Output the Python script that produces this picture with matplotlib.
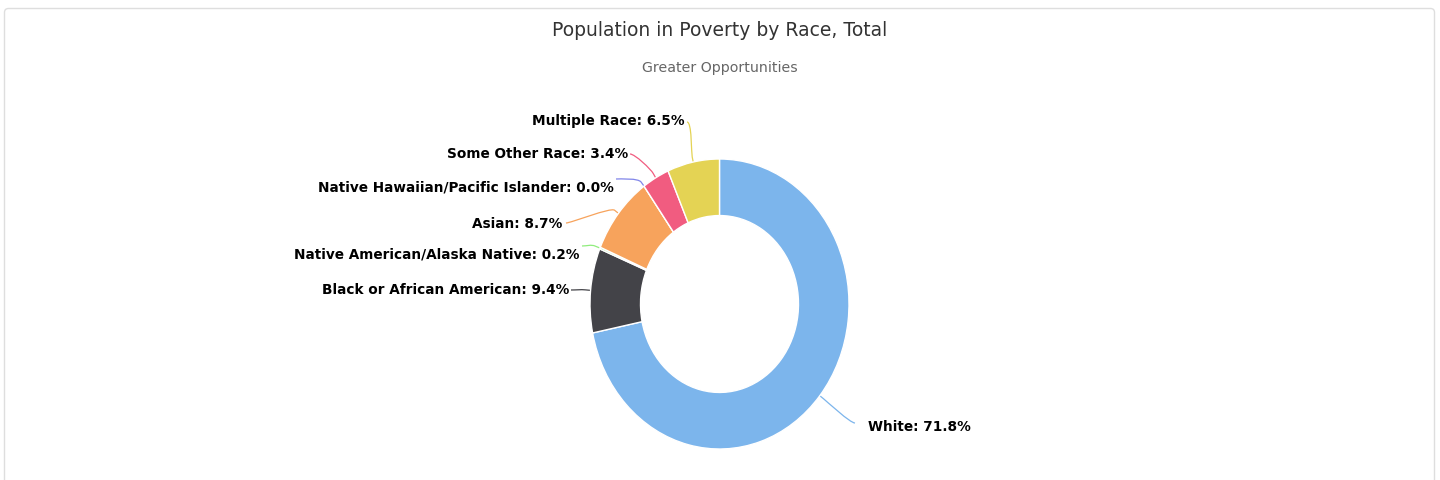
import numpy as np
import matplotlib
matplotlib.use("Agg")
import matplotlib.pyplot as plt
from matplotlib.path import Path
from matplotlib.patches import PathPatch, FancyBboxPatch

# ---------------- data ----------------
categories = ["White", "Black or African American", "Native American/Alaska Native",
              "Asian", "Native Hawaiian/Pacific Islander", "Some Other Race", "Multiple Race"]
shares = [71.8, 9.4, 0.2, 8.7, 0.0, 3.4, 6.5]
colors = ["#7cb5ec", "#434348", "#90ed7d", "#f7a35c", "#8085e9", "#f15c80", "#e4d354"]
title = "Population in Poverty by Race, Total"
subtitle = "Greater Opportunities"

# ---------------- layout (pixels) ----------------
W, H = 1440, 481
cx, cy, rx, ry = 719.5, 305.0, 129.5, 145.0
inner_frac = 0.39
# label text anchor (x, y), alignment, connector start point
label_layout = {
    "White": ((868, 427), "left", (855, 424)),
    "Black or African American": ((569, 290), "right", (571, 291)),
    "Native American/Alaska Native": ((579, 255), "right", (582, 247)),
    "Asian": ((562, 224), "right", (566, 224)),
    "Native Hawaiian/Pacific Islander": ((614, 188), "right", (616, 180)),
    "Some Other Race": ((628, 154), "right", (630, 155)),
    "Multiple Race": ((685, 121), "right", (687, 123)),
}

fig = plt.figure(figsize=(W / 100, H / 100), dpi=100)
fig.patch.set_facecolor("white")

ax = fig.add_axes([0, 0, 1, 1])
ax.set_xlim(0, W)
ax.set_ylim(H, 0)
ax.axis("off")

# card border
card = FancyBboxPatch((4.5, 9.5), 1430, 480, boxstyle="round,pad=0,rounding_size=4",
                      facecolor="white", edgecolor="#dedede", linewidth=1.0, zorder=0)
ax.add_patch(card)

ax.text(719.5, 31, title, ha="center", va="center", fontsize=13.5,
        family="DejaVu Sans", color="#333333")
ax.text(719.5, 68, subtitle, ha="center", va="center", fontsize=10.2,
        family="DejaVu Sans", color="#666666")

# donut in its own axes (elliptical as in reference)
pax = fig.add_axes([(cx - rx) / W, (H - (cy + ry)) / H, 2 * rx / W, 2 * ry / H])
pax.pie(shares, colors=colors, startangle=90, counterclock=False, radius=1.0,
        wedgeprops=dict(width=inner_frac, edgecolor="white", linewidth=1.0))
pax.set_aspect("auto")
pax.set_xlim(-1, 1)
pax.set_ylim(-1, 1)
pax.axis("off")

# labels + connectors
total = float(sum(shares))
cum = 0.0
for name, val, col in zip(categories, shares, colors):
    mid = np.deg2rad((cum + val / 2.0) / total * 360.0)
    cum += val
    s, c = np.sin(mid), np.cos(mid)
    tx, ty = cx + rx * s, cy - ry * c
    off = 5.0
    bx, by = cx + (rx + off) * s, cy - (ry + off) * c
    (lx, ly), align, (sx, sy) = label_layout[name]
    d = 5 if align == "right" else -5
    verts = [(sx, sy), (sx + d, sy), (2 * bx - tx, 2 * by - ty), (bx, by), (tx, ty)]
    codes = [Path.MOVETO, Path.CURVE4, Path.CURVE4, Path.CURVE4, Path.LINETO]
    ax.add_patch(PathPatch(Path(verts, codes), facecolor="none", edgecolor=col,
                           linewidth=0.9, zorder=2))
    ax.text(lx, ly, f"{name}: {val:.1f}%", ha=align, va="center", fontsize=9.8,
            fontweight="bold", family="DejaVu Sans", color="#000000", zorder=3)

fig.savefig("out.png", dpi=100, facecolor="white")
